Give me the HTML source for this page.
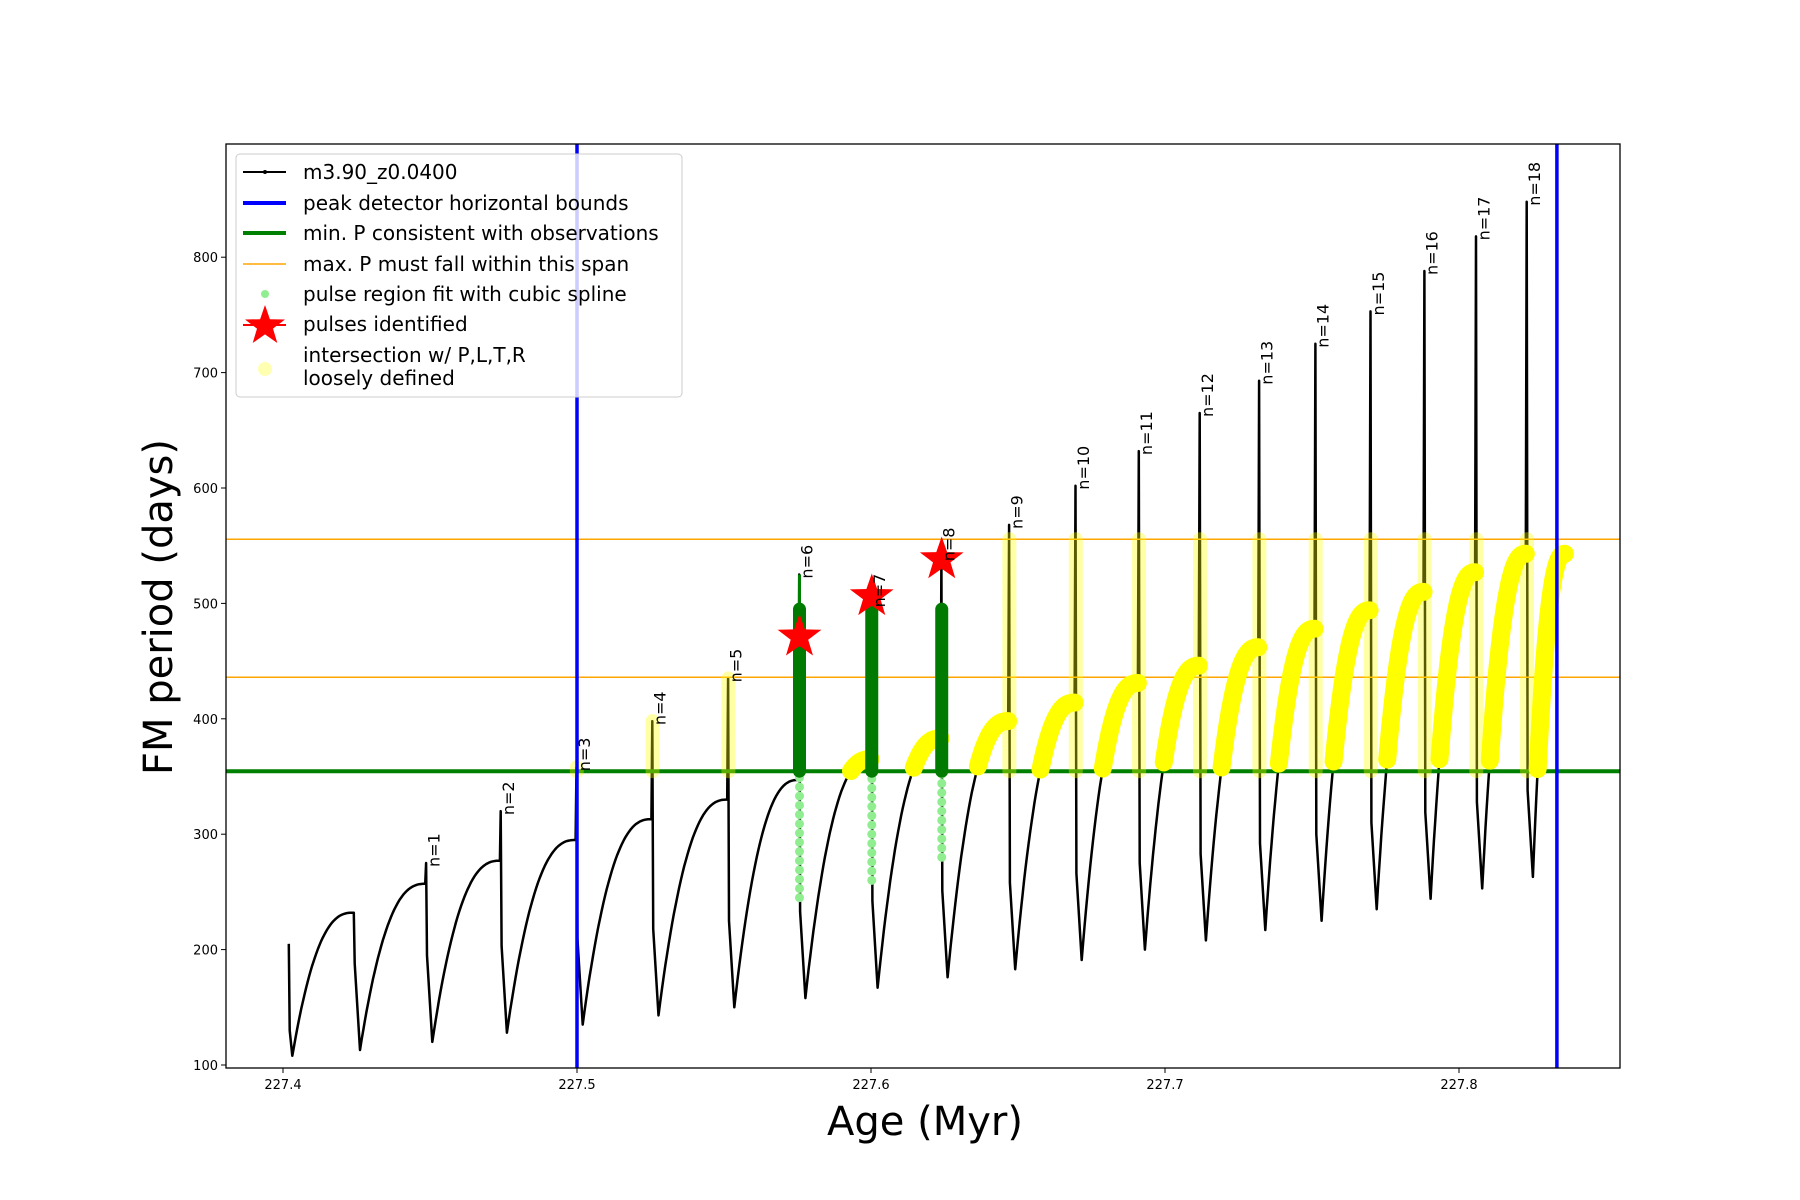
<!DOCTYPE html>
<html><head><meta charset="utf-8"><style>
html,body{margin:0;padding:0;background:#fff;}
svg{display:block;font-family:"DejaVu Sans","Liberation Sans",sans-serif;}
</style></head><body>
<svg id="chart" width="1800" height="1200" viewBox="0 0 1800 1200">
<g id="plot"></g>
</svg>
<script>
const pulseAges=[227.42419,227.44878,227.47416,227.49993,227.52571,227.55149,227.57568,227.60026,227.62406,227.64706,227.66966,227.69118,227.71190,227.73212,227.75126,227.76999,227.78834,227.80588,227.82313];
const pulseLabels=["","n=1","n=2","n=3","n=4","n=5","n=6","n=7","n=8","n=9","n=10","n=11","n=12","n=13","n=14","n=15","n=16","n=17","n=18"];
const spikeVals=[232,275,320,358,398,435,525,500,540,568,602,632,665,693,725,753,788,818,848];
const peakVals=[232,257,277,295,313,330,347,365,383,398,414,431,446,462,478,494,510,527,543];
const minVals=[113,120,128,135,143,150,158,167,176,183,191,200,208,217,225,235,244,253,263];
const startAge=227.40198, startVal=205, firstMin=108, endAge=227.83602, endVal=543;
const starAges=[227.57568,227.60026,227.62406];
const starVals=[471,506,538];
const greenLow=[245,260,280];
const minP=354.6, maxPlo=436, maxPhi=555.6;
const boundLo=227.5, boundHi=227.8333;
const xTicks=[227.4,227.5,227.6,227.7,227.8];
const yTicks=[100,200,300,400,500,600,700,800];

const L=226,R=1620,T=144,B=1068;
const X=a=>283+(a-227.4)*2940;
const Y=v=>1065-(v-100)*1.154;
const NS="http://www.w3.org/2000/svg";
const plot=document.getElementById('plot');
function el(tag,attrs,parent){const e=document.createElementNS(NS,tag);for(const k in attrs)e.setAttribute(k,attrs[k]);(parent||plot).appendChild(e);return e;}

const pts=[];
pts.push([startAge,startVal]);pts.push([startAge+0.0003,130]);
const segs=[];
let prevMinAge=startAge+0.0012, prevMin=firstMin;
for(let i=0;i<pulseAges.length;i++){
  const a=pulseAges[i];
  const rise=[];
  const N=40;
  for(let k=0;k<=N;k++){const t=k/N;const ag=prevMinAge+(a-0.0004-prevMinAge)*t;const v=prevMin+(peakVals[i]-prevMin)*(1-Math.pow(1-t,2.5));rise.push([ag,v]);}
  segs.push(rise);
  pts.push(...rise);
  pts.push([a-0.0001,spikeVals[i]]);
  pts.push([a+0.0002,Math.min(spikeVals[i]-15,minVals[i]+75)]);
  prevMinAge=a+0.0020; prevMin=minVals[i];
  pts.push([prevMinAge,prevMin]);
}
const last=[];
for(let k=0;k<=40;k++){const t=k/40;const ag=prevMinAge+(endAge-prevMinAge)*t;last.push([ag,prevMin+(endVal-prevMin)*(1-Math.pow(1-t,2.5))]);}
segs.push(last);pts.push(...last);

const clip=el('clipPath',{id:'clip'});el('rect',{x:L,y:T,width:R-L,height:B-T},clip);
const g=el('g',{'clip-path':'url(#clip)'});


// black curve
const bl=el('polyline',{points:pts.map(q=>X(q[0]).toFixed(1)+','+Y(q[1]).toFixed(1)).join(' '),fill:'none',stroke:'#000','stroke-width':2.5,'stroke-linejoin':'round'},g);


const gl=el('line',{x1:L,x2:R,y1:Y(minP),y2:Y(minP),stroke:'#008000','stroke-width':4},g);

[maxPlo,maxPhi].forEach((v,i)=>{const o=el('line',{x1:L,x2:R,y1:Y(v),y2:Y(v),stroke:'#ffa500','stroke-width':1.5},g);
});

for(let i=0;i<pulseAges.length;i++){
  if((i>=3&&i<=5)||i>=9){
    const top=Math.min(spikeVals[i],maxPhi);
    const yb=el('line',{x1:X(pulseAges[i]),x2:X(pulseAges[i]),y1:Y(minP),y2:Y(top),stroke:'#ffff00','stroke-width':14,'stroke-opacity':0.35,'stroke-linecap':'round'},g);
    
  }
}
for(let s=7;s<segs.length;s++){
  const p=segs[s].filter(q=>q[1]>=minP);
  if(p.length<2)continue;
  const yl=el('polyline',{points:p.map(q=>X(q[0])+','+Y(q[1])).join(' '),fill:'none',stroke:'#ffff00','stroke-width':18,'stroke-linecap':'round','stroke-linejoin':'round'},g);
  
}
for(let j=0;j<3;j++){
  const i=6+j, x=X(pulseAges[i]);
  for(let v=greenLow[j];v<minP;v+=8){const d=el('circle',{cx:x,cy:Y(v),r:4.5,fill:'#90ee90'},g);
    }
  const gs=el('line',{x1:x,x2:x,y1:Y(minP),y2:Y(495),stroke:'#007a00','stroke-width':13,'stroke-linecap':'round'},g);
  
}
const gt=el('line',{x1:X(pulseAges[6]),x2:X(pulseAges[6]),y1:Y(495),y2:Y(spikeVals[6]),stroke:'#008000','stroke-width':3},g);


function starPts(cx,cy,r){let s=[];for(let k=0;k<10;k++){const rr=k%2?r*0.4:r;const an=-Math.PI/2+k*Math.PI/5;s.push((cx+rr*Math.cos(an)).toFixed(1)+','+(cy+rr*Math.sin(an)).toFixed(1));}return s.join(' ');}
for(let j=0;j<starAges.length;j++){
  const st=el('polygon',{points:starPts(X(starAges[j]),Y(starVals[j]),23),fill:'#ff0000'},g);
  
}
[boundLo,boundHi].forEach((a,i)=>{const b=el('line',{x1:X(a),x2:X(a),y1:T,y2:B,stroke:'#0000ff','stroke-width':3.5},g);
});

for(let i=1;i<pulseAges.length;i++){
  const x=X(pulseAges[i])+13, y=Y(spikeVals[i])+4;
  const t=el('text',{x:x,y:y,transform:`rotate(-90 ${x} ${y})`,'font-size':16,fill:'#000'});
  t.textContent=pulseLabels[i];
  
}

const fr=el('rect',{x:L,y:T,width:R-L,height:B-T,fill:'none',stroke:'#000','stroke-width':1.3});

xTicks.forEach(t=>{const x=X(t);el('line',{x1:x,x2:x,y1:B,y2:B+5,stroke:'#000','stroke-width':1});
 const tx=el('text',{x:x,y:B+21,'font-size':13,'text-anchor':'middle'});tx.textContent=t.toFixed(1);
 });
yTicks.forEach(t=>{const y=Y(t);el('line',{x1:L-5,x2:L,y1:y,y2:y,stroke:'#000','stroke-width':1});
 const ty=el('text',{x:L-8,y:y+5,'font-size':13,'text-anchor':'end'});ty.textContent=t;
 });
const xt=el('text',{x:925,y:1135,'font-size':40,'text-anchor':'middle'});xt.textContent='Age (Myr)';

const yt=el('text',{x:172,y:607,'font-size':40,'text-anchor':'middle',transform:'rotate(-90 172 607)'});yt.textContent='FM period (days)';


const lg=el('g',{});

el('rect',{x:236,y:154,width:446,height:243,rx:4,fill:'#fff','fill-opacity':0.8,stroke:'#ccc','stroke-width':1},lg);
const rows=[['m3.90_z0.0400',172],['peak detector horizontal bounds',203],['min. P consistent with observations',233],['max. P must fall within this span',264],['pulse region fit with cubic spline',294],['pulses identified',324],['intersection w/ P,L,T,R',355],['loosely defined',378]];
rows.forEach(r=>{const t=el('text',{x:303,y:r[1]+7,'font-size':20},lg);t.textContent=r[0];
 });
el('line',{x1:243,x2:286,y1:172,y2:172,stroke:'#000','stroke-width':2},lg);
el('circle',{cx:265,cy:172,r:2,fill:'#000'},lg);
el('line',{x1:243,x2:286,y1:203,y2:203,stroke:'#0000ff','stroke-width':4},lg);
el('line',{x1:243,x2:286,y1:233,y2:233,stroke:'#008000','stroke-width':4},lg);
el('line',{x1:243,x2:286,y1:264,y2:264,stroke:'#ffa500','stroke-width':1.5},lg);
el('circle',{cx:265,cy:294,r:4,fill:'#90ee90'},lg);
el('polygon',{points:starPts(265,326,21),fill:'#ff0000'},lg);
el('line',{x1:243,x2:286,y1:325,y2:325,stroke:'#ff0000','stroke-width':2},lg);
el('circle',{cx:265,cy:369,r:7,fill:'#ffff00','fill-opacity':0.3},lg);
</script>
</body></html>
